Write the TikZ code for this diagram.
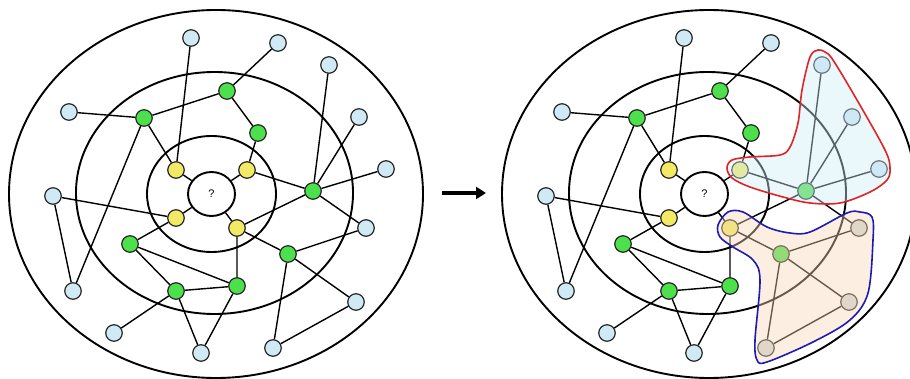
\documentclass[tikz,border=0pt]{standalone}
\usepackage{fontspec}
\setmainfont{Liberation Sans}
\usetikzlibrary{arrows.meta,shapes.geometric}
\definecolor{cblue}{HTML}{CFE9F5}
\definecolor{cgreen}{HTML}{4CE04C}
\definecolor{cyellow}{HTML}{F2EA64}
\definecolor{cgray}{HTML}{D2D7DB}
\definecolor{regblue}{HTML}{CDEBF6}
\definecolor{regpeach}{HTML}{F7D6B4}
\definecolor{redline}{HTML}{E02424}
\definecolor{blueline}{HTML}{1C1CB4}
\newcommand{\mygraph}{%
  \draw[ring] (216,194) ellipse [x radius=207, y radius=184];
  \draw[ring] (214.5,193) ellipse [x radius=138.5, y radius=121];
  \draw[ring] (211.5,194) ellipse [x radius=64.5, y radius=58];
  \node[centre] (c) at (211.5,194) {?};
  % blue outer nodes
  \node[bl] (b1) at (191,38) {};
  \node[bl] (b2) at (278,43) {};
  \node[bl] (b3) at (329,65) {};
  \node[bl] (b4) at (69,112) {};
  \node[bl] (b5) at (359,117) {};
  \node[bl] (b6) at (386,169) {};
  \node[bl] (b7) at (53,196) {};
  \node[gr] (b8) at (366,228) {};
  \node[bl] (b9) at (73,291) {};
  \node[gr] (b10) at (356,302) {};
  \node[bl] (b11) at (114,333) {};
  \node[bl] (b12) at (201,353) {};
  \node[gr] (b13) at (273,348) {};
  % green nodes
  \node[gn] (g1) at (227,91) {};
  \node[gn] (g2) at (144,118) {};
  \node[gn] (g3) at (258,133) {};
  \node[gn] (g4) at (313,191) {};
  \node[gn] (g5) at (130,244) {};
  \node[gn] (g6) at (288,254) {};
  \node[gn] (g7) at (176,291) {};
  \node[gn] (g8) at (237,286) {};
  % yellow nodes
  \node[yl] (y1) at (176,170) {};
  \node[yl] (y2) at (247,170) {};
  \node[yl] (y3) at (176,218) {};
  \node[yl] (y4) at (237,228) {};
  % edges
  \draw[edge] (b1)--(y1) (b2)--(g1) (g1)--(g2) (g1)--(g3)
    (b4)--(g2) (g2)--(y1) (g2)--(b9) (b7)--(b9) (b7)--(y3)
    (g3)--(y2) (y1)--(c) (y2)--(c) (y3)--(c) (y4)--(c)
    (y2)--(g4) (b3)--(g4) (b5)--(g4) (b6)--(g4) (g4)--(b8) (g4)--(y4)
    (y3)--(g5) (y4)--(g6) (y4)--(g8) (g6)--(b8) (g6)--(b10) (g6)--(b13)
    (b10)--(b13) (g5)--(g8) (g5)--(g7) (g7)--(g8) (g7)--(b11)
    (g7)--(b12) (g8)--(b12);
}
\begin{document}
\begin{tikzpicture}[x=1pt,y=-1pt,
  vert/.style={circle,draw=black!85,line width=1.2pt,minimum size=16.5pt,inner sep=0pt},
  bl/.style={vert,fill=cblue},
  gn/.style={vert,fill=cgreen},
  yl/.style={vert,fill=cyellow},
  gr/.style={bl},
  ring/.style={line width=1.9pt},
  edge/.style={line width=1.4pt},
  centre/.style={ellipse,draw,line width=1.9pt,fill=white,minimum width=47pt,minimum height=44pt,inner sep=0pt,font=\fontsize{11}{13}\selectfont},
  region/.style={line width=1.6pt,fill opacity=0.42}
]
\useasboundingbox (0,0) rectangle (910,379);
\clip (0,0) rectangle (910,379);
\begin{scope}[name prefix=L-]
  \mygraph
\end{scope}
\coordinate (a1) at (442,193);
\coordinate (a2) at (486,193);
\draw[line width=3.5pt,-{Triangle[length=10pt,width=12pt]}] (a1) -- (a2);
\begin{scope}[xshift=493pt,name prefix=R-,gr/.style={vert,fill=cgray}]
  \mygraph
\end{scope}
% highlighted regions
\draw[region,draw=redline,fill=regblue] plot[smooth cycle,tension=0.55] coordinates {
  (818,50) (810,57) (802,90) (798,123) (790,147) (780,155) (750,157) (732,160)
  (727,168) (732,178) (750,187) (783,197) (810,203) (840,203) (870,192)
  (887,180) (890,168) (885,150) (857,100) (833,60) (825,52)};
\draw[region,draw=blueline,fill=regpeach] plot[smooth cycle,tension=0.55] coordinates {
  (728,212) (718,225) (720,237) (733,247) (753,260) (760,280) (755,340)
  (757,360) (767,362) (813,342) (850,320) (868,293) (873,240) (872,217)
  (860,212) (847,213) (810,232) (790,233) (767,227) (743,212)};
\end{tikzpicture}
\end{document}
